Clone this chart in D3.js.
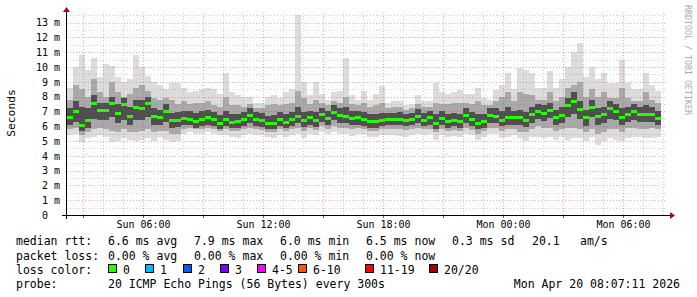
<!DOCTYPE html>
<html>
<head>
<meta charset="utf-8">
<script src="https://cdn.jsdelivr.net/npm/d3@7/dist/d3.min.js"></script>
<style>
  body { margin: 0; background: #fff; }
  text { font-family: 'DejaVu Sans Mono', monospace; }
</style>
</head>
<body>
<div id="chart"></div>
<script>
// 30 hours of smokeping data, one value per 18 minutes (ms)
const stepMinutes = 18;
const startTime = new Date(Date.UTC(2026, 3, 19, 2, 12));
const endTime = new Date(Date.UTC(2026, 3, 20, 8, 12));

const medianMs = [
  6.6, 7.05, 6.1, 6.4, 7.55, 7.1, 7.1, 7.6, 6.9, 7.5, 6.7, 7.3, 7.2, 7.6, 6.7, 6.6, 7.0, 6.4, 6.45, 6.55, 6.5, 6.35, 6.5, 6.6, 6.5, 6.2,
  6.5, 6.3, 6.35, 6.5, 6.75, 6.5, 6.45, 6.2, 6.25, 6.5, 6.3, 6.5, 6.7, 6.45, 6.6, 6.45, 6.8, 6.55, 6.95, 6.75, 6.7, 6.55, 6.6, 6.5,
  6.35, 6.35, 6.45, 6.5, 6.5, 6.5, 6.45, 6.5, 6.7, 6.45, 6.6, 6.25, 6.55, 6.35, 6.45, 6.35, 6.75, 6.5, 6.25, 6.35, 6.75, 6.7, 6.45, 6.6, 6.6,
  6.6, 6.45, 6.8, 7.05, 6.9, 7.1, 6.6, 6.75, 7.4, 7.7, 7.15, 6.6, 7.3, 6.7, 6.8, 7.2, 7.0, 6.6, 6.85, 7.0, 6.85, 6.85, 6.85, 6.55
];
const maxMs = [
  8.6, 10.0, 10.8, 9.8, 10.6, 9.3, 10.2, 10.1, 9.3, 9.0, 9.2, 10.8, 10.0, 9.4, 9.0, 8.8, 8.5, 8.9, 8.9, 8.6, 8.3, 8.4, 8.5, 8.6, 8.5, 8.2,
  9.6, 8.3, 8.1, 8.0, 8.0, 7.6, 7.6, 8.0, 8.1, 7.9, 8.3, 8.5, 13.5, 9.0, 8.1, 9.0, 8.2, 7.8, 8.3, 8.4, 10.6, 8.1, 7.8, 8.4,
  7.8, 8.2, 8.7, 7.6, 7.7, 7.7, 7.4, 7.5, 8.1, 7.7, 7.7, 8.9, 8.3, 8.2, 8.3, 8.45, 8.2, 8.2, 8.55, 7.9, 7.8, 8.45, 8.8, 9.6, 8.5,
  9.9, 9.8, 9.6, 8.6, 8.6, 9.7, 8.6, 9.2, 10.0, 11.0, 11.6, 9.3, 10.0, 9.2, 9.6, 8.9, 8.9, 10.5, 8.9, 8.5, 8.5, 9.6, 8.8, 8.4
];
const p90Ms = [
  7.8, 8.8, 8.5, 8.0, 9.2, 8.3, 8.0, 9.0, 8.3, 8.0, 8.2, 8.6, 8.8, 8.4, 7.9, 7.8, 7.9, 7.8, 7.5, 7.7, 7.5, 7.6, 7.6, 7.7, 7.4, 7.3,
  8.0, 7.4, 7.4, 7.3, 7.5, 7.2, 7.2, 7.4, 7.5, 7.4, 7.5, 7.6, 8.4, 7.9, 7.5, 7.8, 7.6, 7.4, 7.7, 7.6, 8.0, 7.5, 7.4, 7.6,
  7.3, 7.4, 7.6, 7.2, 7.3, 7.3, 7.1, 7.2, 7.5, 7.3, 7.3, 7.6, 7.5, 7.5, 7.6, 7.6, 7.6, 7.5, 7.7, 7.4, 7.4, 7.7, 8.0, 8.3, 7.7,
  8.3, 8.2, 8.1, 7.8, 7.8, 8.3, 7.7, 8.0, 8.6, 8.8, 9.0, 8.0, 8.5, 8.0, 8.3, 7.9, 7.9, 8.6, 7.9, 7.7, 7.7, 8.3, 7.8, 7.6
];
const q3Ms = [
  7.2, 7.7, 7.3, 7.2, 8.1, 7.6, 7.6, 8.0, 7.5, 7.9, 7.3, 7.8, 7.8, 8.0, 7.2, 7.1, 7.5, 6.9, 6.95, 7.0, 7.0, 6.9, 7.0, 7.1, 6.95, 6.75,
  7.0, 6.8, 6.85, 6.95, 7.2, 6.95, 6.9, 6.7, 6.75, 6.95, 6.8, 6.95, 7.3, 6.95, 7.05, 6.95, 7.25, 7.0, 7.4, 7.2, 7.3, 7.0, 7.05, 6.95,
  6.8, 6.8, 6.9, 6.9, 6.9, 6.95, 6.85, 6.9, 7.15, 6.9, 7.0, 6.85, 7.0, 6.8, 6.9, 6.85, 7.2, 6.95, 6.8, 6.85, 7.2, 7.2, 7.0, 7.3, 7.05,
  7.1, 6.95, 7.3, 7.5, 7.4, 7.6, 7.1, 7.3, 7.9, 8.3, 7.7, 7.1, 7.8, 7.2, 7.3, 7.7, 7.5, 7.2, 7.3, 7.5, 7.3, 7.4, 7.3, 7.0
];
const q1Ms = [
  6.1, 6.3, 5.7, 5.9, 6.5, 6.4, 6.4, 6.6, 6.2, 6.4, 6.1, 6.4, 6.4, 6.6, 6.1, 6.1, 6.3, 5.9, 5.95, 6.05, 6.05, 5.9, 6.0, 6.1, 6.0, 5.8,
  6.0, 5.85, 5.9, 6.0, 6.2, 6.0, 5.95, 5.8, 5.8, 6.0, 5.85, 6.0, 6.2, 5.95, 6.1, 5.95, 6.3, 6.05, 6.4, 6.25, 6.2, 6.05, 6.1, 6.0,
  5.9, 5.9, 6.0, 6.05, 6.05, 6.05, 6.0, 6.05, 6.2, 6.0, 6.1, 5.8, 6.05, 5.9, 6.0, 5.9, 6.2, 6.0, 5.8, 5.9, 6.2, 6.2, 6.0, 6.1, 6.1,
  6.1, 5.95, 6.25, 6.5, 6.35, 6.55, 6.05, 6.2, 6.6, 6.8, 6.5, 6.0, 6.6, 6.1, 6.2, 6.5, 6.4, 6.05, 6.3, 6.4, 6.3, 6.3, 6.3, 6.05
];
const p10Ms = [
  5.8, 5.9, 5.4, 5.6, 5.8, 5.9, 5.8, 5.7, 5.6, 5.8, 5.6, 5.6, 5.7, 5.8, 5.6, 5.7, 5.7, 5.5, 5.5, 5.8, 5.9, 5.8, 5.8, 5.9, 5.8, 5.7,
  5.8, 5.7, 5.7, 5.8, 5.9, 5.8, 5.75, 5.6, 5.6, 5.8, 5.7, 5.8, 5.9, 5.7, 5.9, 5.75, 6.0, 5.8, 6.0, 5.9, 5.9, 5.8, 5.85, 5.8,
  5.7, 5.7, 5.8, 5.8, 5.8, 5.8, 5.75, 5.8, 5.9, 5.8, 5.8, 5.6, 5.8, 5.7, 5.75, 5.7, 5.9, 5.75, 5.5, 5.7, 5.9, 5.9, 5.7, 5.8, 5.8,
  5.6, 5.6, 5.8, 6.0, 5.9, 5.9, 5.7, 5.8, 5.9, 5.9, 5.8, 5.6, 5.8, 5.5, 5.6, 5.8, 5.8, 5.6, 5.9, 5.9, 5.8, 5.8, 5.9, 5.8
];
const minMs = [
  5.4, 5.5, 4.9, 5.2, 5.3, 5.4, 5.3, 4.9, 5.0, 5.2, 5.1, 5.0, 5.1, 5.2, 5.0, 5.3, 5.1, 4.95, 5.0, 5.5, 5.6, 5.5, 5.5, 5.6, 5.5, 5.4,
  5.4, 5.3, 5.2, 5.4, 5.5, 5.4, 5.4, 5.3, 5.2, 5.4, 5.3, 5.4, 5.5, 5.2, 5.5, 5.4, 5.6, 5.45, 5.6, 5.5, 5.5, 5.35, 5.5, 5.5,
  5.3, 5.3, 5.4, 5.4, 5.4, 5.35, 5.3, 5.4, 5.5, 5.4, 5.5, 5.1, 5.4, 5.3, 5.35, 5.3, 5.5, 5.4, 5.1, 5.3, 5.5, 5.5, 5.2, 5.3, 5.4,
  5.2, 5.0, 5.3, 5.3, 5.2, 5.3, 5.1, 5.3, 5.1, 5.2, 5.2, 5.0, 5.3, 4.7, 5.0, 5.2, 5.1, 5.0, 5.2, 5.3, 5.3, 5.2, 5.2, 5.3
];

const yTicks = d3.range(0, 14);
const xLabelTimes = [
  Date.UTC(2026, 3, 19, 6), Date.UTC(2026, 3, 19, 12), Date.UTC(2026, 3, 19, 18),
  Date.UTC(2026, 3, 20, 0), Date.UTC(2026, 3, 20, 6)
].map(t => new Date(t));

const statRows = [
  { label: 'median rtt:', items: ['6.6 ms avg', '7.9 ms max', '6.0 ms min', '6.5 ms now', '0.3 ms sd', '20.1', 'am/s'] },
  { label: 'packet loss:', items: ['0.00 % avg', '0.00 % max', '0.00 % min', '0.00 % now'] }
];
const statX = [108, 194, 280, 366, 452, 532, 580];
const lossLabels = ['0', '1', '2', '3', '4-5', '6-10', '11-19', '20/20'];
const lossColors = ['#26ff00', '#00b8ff', '#0059ff', '#7e00ff', '#ff00ff', '#ff5500', '#ff0000', '#a00000'];
const lossX = [108, 145, 183, 220, 257, 298, 365, 429];
const probeText = '20 ICMP Echo Pings (56 Bytes) every 300s';
const stampText = 'Mon Apr 20 08:07:11 2026';

const W = 697, H = 297;
const plot = { left: 67, right: 667, top: 13, bottom: 215 };

const svg = d3.select('#chart').append('svg')
  .attr('width', W).attr('height', H)
  .style('display', 'block');

const x = d3.scaleUtc().domain([startTime, endTime]).range([plot.left, plot.right]);
const y = d3.scaleLinear().domain([0, 13.65]).range([plot.bottom, plot.top]);
const timeAt = i => d3.utcMinute.offset(startTime, i * stepMinutes);

const drawSmoke = () => {
  const bands = [
    { lo: minMs, hi: maxMs, color: '#dcdcdc' },
    { lo: p10Ms, hi: p90Ms, color: '#a9a9a9' },
    { lo: q1Ms, hi: q3Ms, color: '#4f4f4f' }
  ];
  const g = svg.append('g').attr('shape-rendering', 'crispEdges');
  bands.forEach(b => {
    g.append('g').selectAll('rect')
      .data(medianMs.map((_, i) => i))
      .enter().append('rect')
      .attr('x', i => x(timeAt(i)))
      .attr('width', i => x(timeAt(i + 1)) - x(timeAt(i)))
      .attr('y', i => y(b.hi[i]))
      .attr('height', i => y(b.lo[i]) - y(b.hi[i]))
      .attr('fill', b.color);
  });
};

const drawMedian = () => {
  svg.append('g').attr('shape-rendering', 'crispEdges')
    .selectAll('rect')
    .data(medianMs)
    .enter().append('rect')
    .attr('x', (_, i) => x(timeAt(i)))
    .attr('width', (_, i) => x(timeAt(i + 1)) - x(timeAt(i)))
    .attr('y', d => Math.round(y(d)) - 1)
    .attr('height', 3)
    .attr('fill', lossColors[0]);
};

const drawGrid = () => {
  const g = svg.append('g').attr('shape-rendering', 'crispEdges');
  const hours = d3.utcHour.range(startTime, endTime);
  hours.forEach(h => {
    const major = h.getUTCHours() % 3 === 0;
    g.append('line')
      .attr('x1', Math.round(x(h)) + 0.5).attr('x2', Math.round(x(h)) + 0.5)
      .attr('y1', plot.top).attr('y2', plot.bottom)
      .attr('stroke', major ? 'rgba(215,60,60,0.45)' : 'rgba(120,120,120,0.35)')
      .attr('stroke-dasharray', '1,2');
  });
  d3.range(0.5, 13.6, 0.5).forEach(v => {
    const major = v % 1 === 0;
    g.append('line')
      .attr('x1', plot.left).attr('x2', plot.right)
      .attr('y1', Math.round(y(v)) + 0.5).attr('y2', Math.round(y(v)) + 0.5)
      .attr('stroke', major ? 'rgba(215,60,60,0.45)' : 'rgba(120,120,120,0.35)')
      .attr('stroke-dasharray', '1,2');
  });
};

const addAxises = () => {
  // X axis labels
  const xAxis = svg.append('g')
    .attr('transform', `translate(0, ${plot.bottom})`)
    .call(d3.axisBottom(x).tickValues(xLabelTimes).tickSize(0).tickPadding(6)
      .tickFormat(d3.utcFormat('%a %H:%M')));
  xAxis.select('.domain').remove();
  xAxis.selectAll('text').attr('font-size', 10).attr('fill', '#000')
    .attr('font-family', "'DejaVu Sans Mono', monospace");

  // Y axis labels
  const yAxis = svg.append('g')
    .attr('transform', `translate(${plot.left}, 0)`)
    .call(d3.axisLeft(y).tickValues(yTicks).tickSize(0).tickPadding(7)
      .tickFormat(d => d === 0 ? '0' : `${d} m`));
  yAxis.select('.domain').remove();
  yAxis.selectAll('text').attr('font-size', 10).attr('fill', '#000')
    .attr('font-family', "'DejaVu Sans Mono', monospace")
    .attr('dx', d => d === 0 ? -12 : 0);

  const a = svg.append('g').attr('shape-rendering', 'crispEdges');
  // small ticks under the x axis
  d3.utcHour.every(3).range(startTime, endTime).forEach(h => {
    a.append('line')
      .attr('x1', Math.round(x(h)) + 0.5).attr('x2', Math.round(x(h)) + 0.5)
      .attr('y1', plot.bottom).attr('y2', plot.bottom + 3)
      .attr('stroke', '#666');
  });
  a.append('line')
    .attr('x1', 62).attr('x2', 670)
    .attr('y1', plot.bottom + 0.5).attr('y2', plot.bottom + 0.5)
    .attr('stroke', '#000');
  a.append('line')
    .attr('x1', plot.left - 0.5).attr('x2', plot.left - 0.5)
    .attr('y1', 219).attr('y2', 10)
    .attr('stroke', '#000');
  // arrow heads
  svg.append('path')
    .attr('d', `M670,${plot.bottom - 3} L675,${plot.bottom + 0.5} L670,${plot.bottom + 4} Z`)
    .attr('fill', '#a01010');
  svg.append('path')
    .attr('d', `M${plot.left - 4},12 L${plot.left - 0.5},7 L${plot.left + 3},12 Z`)
    .attr('fill', '#a01010');
};

const addLabels = () => {
  svg.append('text')
    .text('Seconds')
    .attr('transform', 'translate(15, 113) rotate(-90)')
    .attr('text-anchor', 'middle')
    .attr('font-size', 11.3);

  svg.append('text')
    .text('RRDTOOL / TOBI OETIKER')
    .attr('transform', 'translate(685, 5) rotate(90)')
    .attr('font-size', 8.3)
    .attr('fill', '#aaa');
};

const addLegend = () => {
  const fs = 11.5;
  const rowY = [245, 260, 274, 288];
  statRows.forEach((row, r) => {
    svg.append('text').text(row.label).attr('x', 16).attr('y', rowY[r]).attr('font-size', fs);
    row.items.forEach((t, i) => {
      svg.append('text').text(t).attr('x', statX[i]).attr('y', rowY[r]).attr('font-size', fs);
    });
  });
  svg.append('text').text('loss color:').attr('x', 16).attr('y', rowY[2]).attr('font-size', fs);
  lossLabels.forEach((l, i) => {
    svg.append('rect')
      .attr('x', lossX[i] + 0.5).attr('y', rowY[2] - 9.5)
      .attr('width', 8).attr('height', 8)
      .attr('fill', lossColors[i]).attr('stroke', '#000');
    svg.append('text').text(l)
      .attr('x', lossX[i] + 15).attr('y', rowY[2]).attr('font-size', fs);
  });
  svg.append('text').text('probe:').attr('x', 16).attr('y', rowY[3]).attr('font-size', fs);
  svg.append('text').text(probeText).attr('x', 108).attr('y', rowY[3]).attr('font-size', fs);
  svg.append('text').text(stampText).attr('x', 680).attr('y', rowY[3])
    .attr('text-anchor', 'end').attr('font-size', fs);
};

drawSmoke();
drawMedian();
drawGrid();
addAxises();
addLabels();
addLegend();
</script>
</body>
</html>
